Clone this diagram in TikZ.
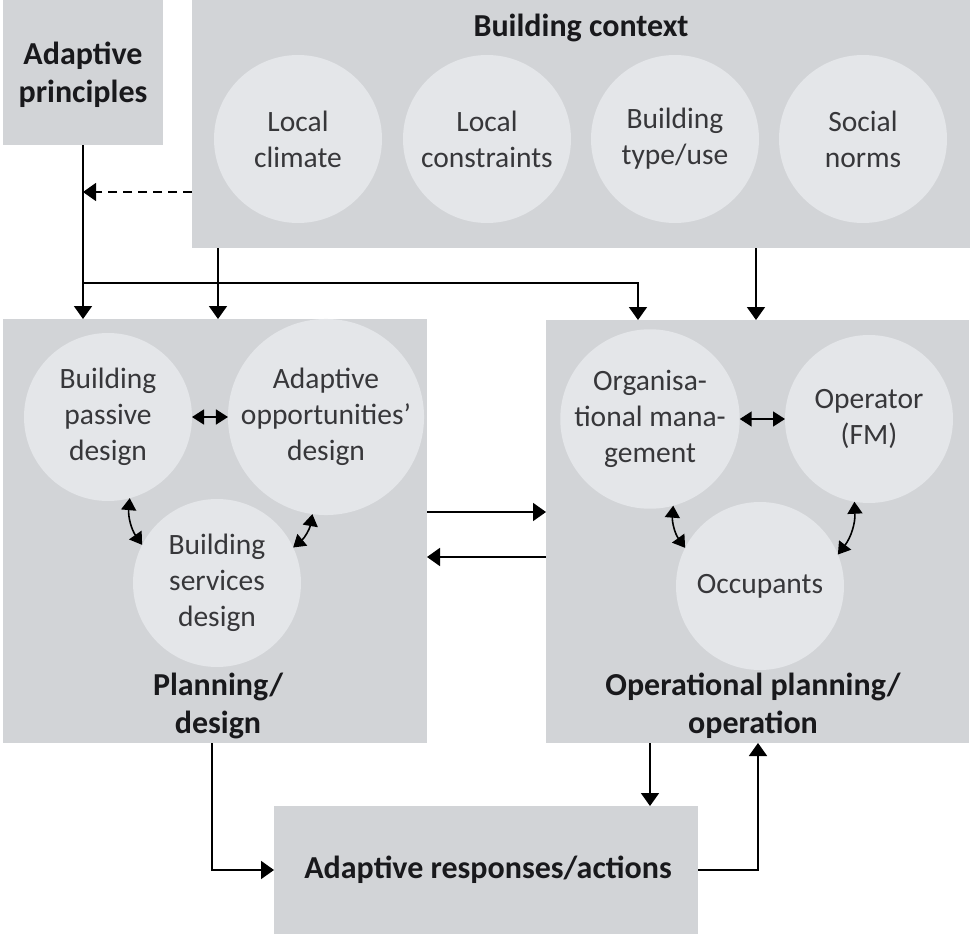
\documentclass[tikz,border=0pt]{standalone}
\usepackage{fontspec}
\setmainfont{Carlito}
\usetikzlibrary{arrows.meta}
\definecolor{boxgray}{RGB}{210,212,215}
\definecolor{circgray}{RGB}{228,230,233}
\definecolor{bubbletext}{RGB}{55,55,58}
\definecolor{titletext}{RGB}{25,25,28}
\begin{document}
\begin{tikzpicture}[x=1pt,y=-1pt,
  panel/.style={fill=boxgray,draw=none,inner sep=0pt,outer sep=0pt,anchor=north west},
  bubble/.style={circle,fill=circgray,draw=none,minimum size=168pt,inner sep=0pt,outer sep=0pt,align=center,text=bubbletext,font=\fontsize{29.5}{36}\selectfont},
  title/.style={align=center,text=titletext,font=\fontsize{32}{38}\selectfont\bfseries},
  link/.style={line width=1.8pt,-{Triangle[length=13pt,width=18pt]}},
  twoway/.style={line width=1.6pt,{Triangle[length=12pt,width=15pt]}-{Triangle[length=12pt,width=15pt]}},
]
\useasboundingbox (0,0) rectangle (970,934);

% panels
\node[panel,minimum width=160pt,minimum height=145pt] (ap) at (3,0) {};
\node[title] (aptitle) at (83,75) {Adaptive\\principles};
\node[panel,minimum width=778pt,minimum height=248pt] (bc) at (192,0) {};
\node[title] (bctitle) at (581,28) {Building context};
\node[panel,minimum width=424pt,minimum height=424pt] (pd) at (3,319) {};
\node[title] (pdtitle) at (218,706) {Planning/\\design};
\node[panel,minimum width=423pt,minimum height=423pt] (opb) at (546,320) {};
\node[title] (optitle) at (753,706) {Operational planning/\\operation};
\node[panel,minimum width=424pt,minimum height=128pt] (resp) at (274,806) {};
\node[title] (resptitle) at (488,870) {Adaptive responses/actions};

% building context bubbles
\node[bubble] (lc) at (298,139) {Local\\climate};
\node[bubble] (lcon) at (487,139) {Local\\constraints};
\node[bubble] (btu) at (675,139) {Building\\type/use};
\node[bubble] (sn) at (863,139) {Social\\norms};

% planning bubbles
\node[bubble] (bpd) at (108,417) {Building\\passive\\design};
\node[bubble] (aod) at (326,417) {Adaptive\\opportunities’\\design};
\node[bubble] (bsd) at (217,583) {Building\\services\\design};

% operation bubbles
\node[bubble] (om) at (650,419) {Organisa-\\tional mana-\\gement};
\node[bubble] (op) at (869,419) {Operator\\(FM)};
\node[bubble] (occ) at (760,586) {Occupants};

% helper coordinates
\coordinate (dashy) at (0,192);
\coordinate (splity) at (0,283);
\coordinate (xa) at (218,0);
\coordinate (xb) at (638,0);
\coordinate (xc) at (756,0);
\coordinate (ya) at (0,512);
\coordinate (yb) at (0,557);
\coordinate (xd) at (212,0);
\coordinate (xe) at (650,0);
\coordinate (xf) at (758,0);

% connectors
\draw[link] (ap.south) -- (ap.south |- pd.north);
\draw[link,line width=1.4pt,dash pattern=on 9pt off 6pt] (bc.west |- dashy) -- (ap.south |- dashy);
\draw[link] (ap.south |- splity) -| (opb.north -| xb);
\draw[link] (bc.south -| xa) -- (pd.north -| xa);
\draw[link] (bc.south -| xc) -- (opb.north -| xc);
\draw[link] (pd.east |- ya) -- (opb.west |- ya);
\draw[link] (opb.west |- yb) -- (pd.east |- yb);
\draw[link] (pd.south -| xd) |- (resp.west);
\draw[link] (opb.south -| xe) -- (resp.north -| xe);
\draw[link] (resp.east) -| (opb.south -| xf);

% bubble links
\draw[twoway] (bpd.east) -- (aod.west);
\draw[twoway] (bpd.-75) to[bend right=20] (bsd.153);
\draw[twoway] (aod.-98) to[bend left=20] (bsd.25);
\draw[twoway] (om.east) -- (op.west);
\draw[twoway] (om.-75) to[bend right=20] (occ.153);
\draw[twoway] (op.-100) to[bend left=20] (occ.22);
\end{tikzpicture}
\end{document}
